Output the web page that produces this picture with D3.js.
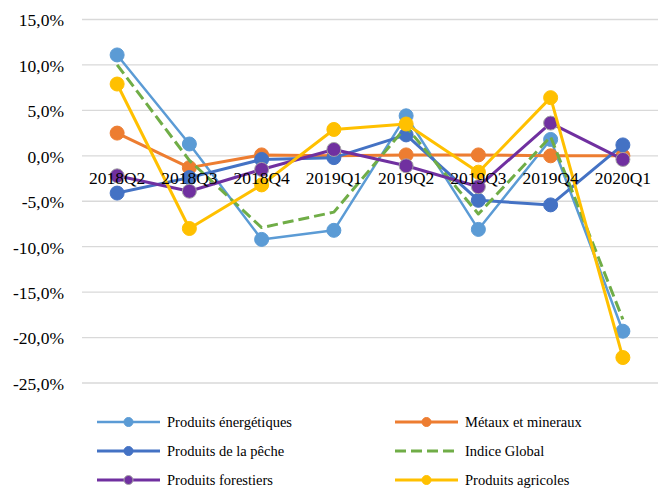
<!DOCTYPE html>
<html>
<head>
<meta charset="utf-8">
<script src="https://cdn.jsdelivr.net/npm/d3@7"></script>
<style>
  body { margin: 0; background: #fff; }
</style>
</head>
<body>
<div id="chart"></div>
<script>
const categories = ['2018Q2', '2018Q3', '2018Q4', '2019Q1', '2019Q2', '2019Q3', '2019Q4', '2020Q1'];
const yTicks = [15, 10, 5, 0, -5, -10, -15, -20, -25];

const energetiques = [11.1, 1.3, -9.2, -8.2, 4.4, -8.1, 1.8, -19.3];
const metaux = [2.5, -1.3, 0.1, 0.0, 0.1, 0.1, 0.0, 0.0];
const peche = [-4.1, -2.4, -0.4, -0.2, 2.3, -4.9, -5.4, 1.2];
const indiceGlobal = [10.0, -0.5, -7.9, -6.2, 3.2, -6.4, 2.1, -18.0];
const forestiers = [-2.2, -3.9, -1.5, 0.7, -1.1, -3.4, 3.6, -0.4];
const agricoles = [7.9, -8.0, -3.2, 2.9, 3.5, -1.8, 6.4, -22.2];

const series = [
  { name: 'Produits énergétiques', values: energetiques, color: '#5B9BD5', width: 2.5 },
  { name: 'Métaux et mineraux', values: metaux, color: '#ED7D31', width: 3 },
  { name: 'Produits de la pêche', values: peche, color: '#4472C4', width: 3 },
  { name: 'Indice Global', values: indiceGlobal, color: '#70AD47', width: 3, dash: '11,5', noMarker: true },
  { name: 'Produits forestiers', values: forestiers, color: '#7030A0', width: 3, markerStroke: '#A5A5A5' },
  { name: 'Produits agricoles', values: agricoles, color: '#FFC000', width: 3 }
];

const width = 659, height = 488;
const font = '"Liberation Serif", "Times New Roman", "DejaVu Serif", serif';
const svg = d3.select('#chart').append('svg').attr('width', width).attr('height', height)
  .attr('font-family', font);

const x = d3.scalePoint().domain(categories).range([81, 659]).padding(0.5);
const y = d3.scaleLinear().domain([-25, 15]).range([383, 19.5]);

// grid
svg.append('g').selectAll('line').data(yTicks).join('line')
  .attr('x1', 82).attr('x2', 658)
  .attr('y1', d => y(d)).attr('y2', d => y(d))
  .attr('stroke', '#d9d9d9').attr('stroke-width', 1.3);

const fmt = d => d3.format('.1f')(d).replace('.', ',').replace('−', '-') + '%';
svg.append('g').selectAll('text').data(yTicks).join('text')
  .attr('x', 64).attr('y', d => y(d)).attr('dy', '0.39em')
  .attr('text-anchor', 'end').attr('font-size', 17.5).attr('font-family', font)
  .text(fmt);

// lines
const line = d3.line().x((d, i) => x(categories[i])).y(d => y(d));
series.forEach(s => {
  const g = svg.append('g');
  g.append('path').datum(s.values)
    .attr('d', line).attr('fill', 'none')
    .attr('stroke', s.color).attr('stroke-width', s.width)
    .attr('stroke-dasharray', s.dash || null)
    .attr('stroke-linejoin', 'round');
  if (!s.noMarker) {
    g.selectAll('circle').data(s.values).join('circle')
      .attr('cx', (d, i) => x(categories[i])).attr('cy', d => y(d))
      .attr('r', 7).attr('fill', s.color)
      .attr('stroke', s.markerStroke || s.color).attr('stroke-width', 1);
  }
});

// category labels
svg.append('g').selectAll('text').data(categories).join('text')
  .attr('x', d => x(d)).attr('y', 183.5)
  .attr('text-anchor', 'middle').attr('font-size', 17.5).attr('font-family', font)
  .text(d => d);

// legend
const legend = svg.append('g');
series.forEach((s, i) => {
  const col = i % 2, row = Math.floor(i / 2);
  const lx = col === 0 ? 97 : 395;
  const ly = 422 + row * 29;
  const item = legend.append('g');
  item.append('line').attr('x1', lx).attr('x2', lx + 63).attr('y1', ly).attr('y2', ly)
    .attr('stroke', s.color).attr('stroke-width', s.width)
    .attr('stroke-dasharray', s.dash || null);
  if (!s.noMarker) {
    item.append('circle').attr('cx', lx + 31.5).attr('cy', ly).attr('r', 4.5)
      .attr('fill', s.color).attr('stroke', s.markerStroke || s.color).attr('stroke-width', 1);
  }
  item.append('text').attr('x', lx + 70).attr('y', ly).attr('dy', '0.35em')
    .attr('font-size', 14.5).attr('font-family', font).text(s.name);
});
</script>
</body>
</html>
